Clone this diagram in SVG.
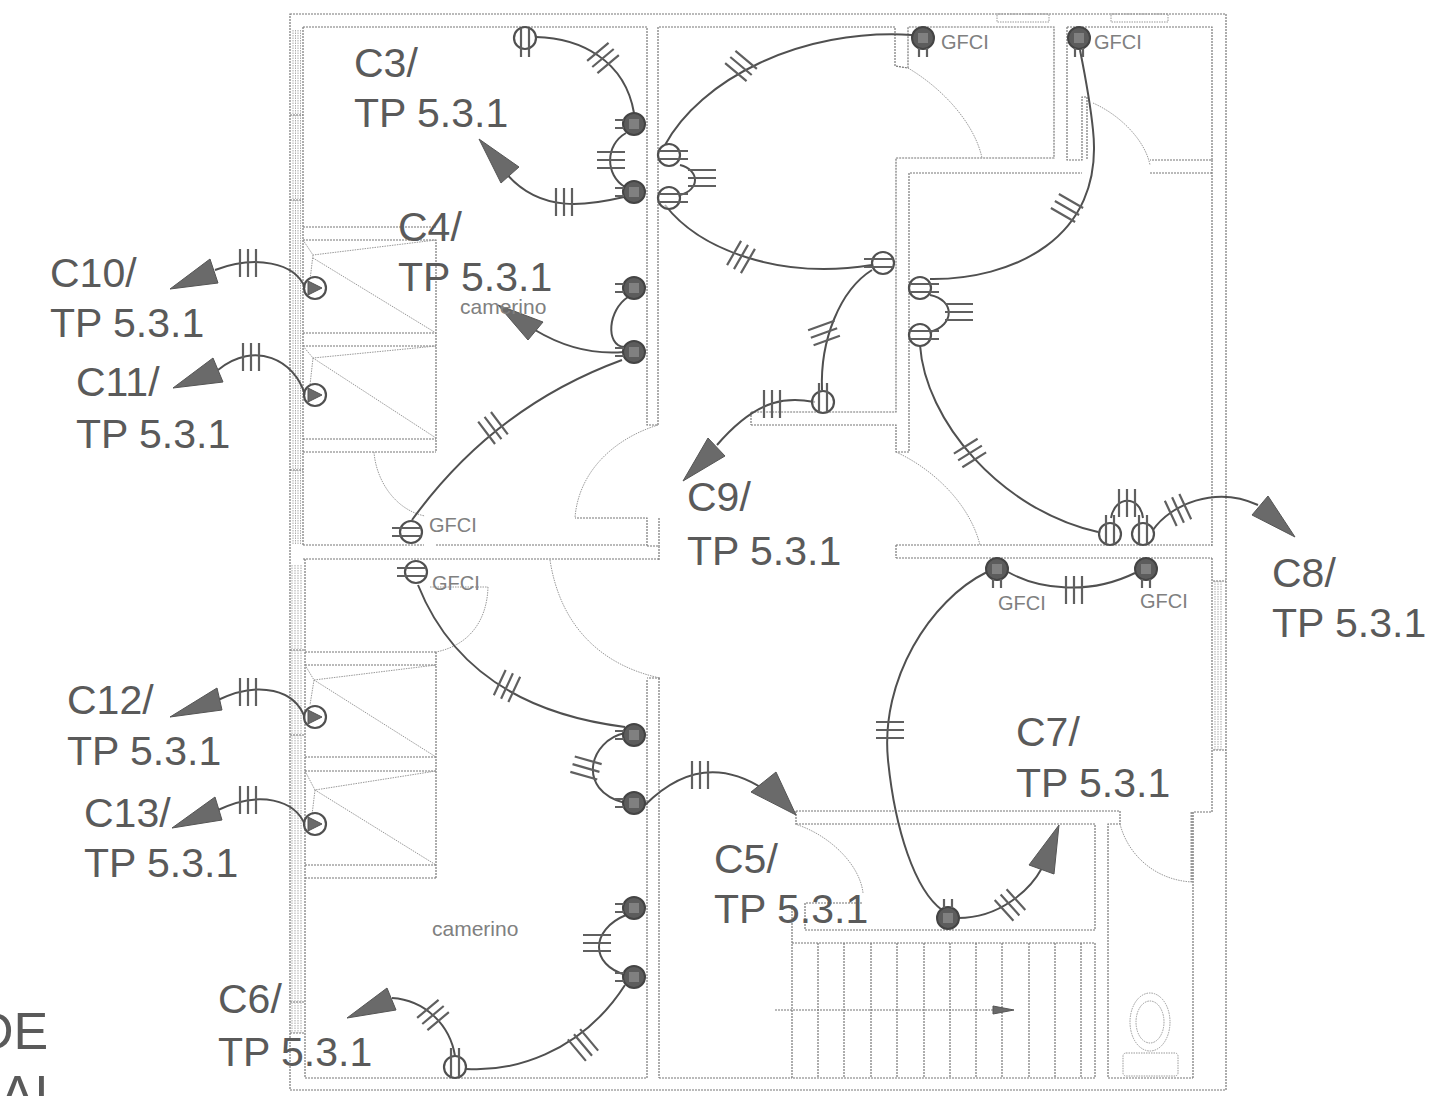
<svg xmlns="http://www.w3.org/2000/svg" width="1431" height="1096" viewBox="0 0 1431 1096">
<style>
.w{fill:none;stroke:#777;stroke-width:1.2;stroke-dasharray:2 1}
.l{fill:none;stroke:#999;stroke-width:1;stroke-dasharray:1.5 1}
.s{fill:none;stroke:#aaa;stroke-width:1;stroke-dasharray:1.5 1}
.e{fill:none;stroke:#505050;stroke-width:2}
.t{fill:none;stroke:#606060;stroke-width:2.2}
.a{fill:#6a6a6a;stroke:#555;stroke-width:1}
.o{fill:#fff;fill-opacity:.6;stroke:#505050;stroke-width:2.2}
.d{fill:#5c5c5c;stroke:#444;stroke-width:2}
text{font-family:"Liberation Sans",Arial,sans-serif;fill:#5a5a5a}
.m{font-size:41px}
.b{font-size:52px}
.g{font-size:20px;fill:#808080}
.c{font-size:21px;fill:#808080}
</style>
<defs>
<g id="t3"><path class="t" d="M-8-14V14M0-14V14M8-14V14"/></g>
<g id="op"><circle class="o" r="11"/><path class="t" d="M-4-10V19M4-10V19"/></g>
<g id="dk"><circle class="d" r="11"/><path d="M-5-5H5V5H-5Z" fill="#808080"/><path class="t" d="M-4 10V19M4 10V19"/></g>
<g id="tr"><circle class="o" r="11"/><path class="a" d="M-7-7L7 0L-7 7Z"/></g>
</defs>

<g id="plan">
<path class="w" d="M290 14H1226V1090H290Z"/>
<!-- window strips -->
<path class="s" d="M293 30V545M295.5 30V545M298 30V545M300.5 30V545M292 565V1033M295 565V1033M298 565V1033M301 565V1033"/>
<path class="w" d="M290 115H303M290 200H303M290 470H303M290 650H305M290 735H305M290 1002H305M290 1033H305"/>
<path class="w" d="M303 27H647V425H658V27M303 27V545M305 559V1078H647V680M659 678V1078M436 545H647V518H575M659 518V546M303 545H424M303 559H659M647 546H659V560M660 678H647"/>
<!-- closets -->
<path class="w" d="M303 227H436M303 240H436V452M303 333H436M303 346H436M303 439H436M303 452H436"/>
<path class="w" d="M305 652H436M305 665H436V878M305 757H436M305 771H436M305 865H436M305 878H436M436 652V665"/>
<path class="l" d="M303 240L313 255L436 240M313 258L436 333M313 255L310 280M303 346L313 358L436 346M313 358L436 438M313 358L310 385M305 665L314 680L436 665M314 680L436 757M314 680L310 705M305 771L315 790L436 771M315 790L436 865M315 790L312 815"/>
<path class="l" d="M374 452C376 480 395 510 425 516M658 425C610 440 578 475 575 518M488 587C487 620 470 645 436 652M430 587H488M550 560C560 625 600 665 660 678"/>
<!-- right top -->
<path class="w" d="M659 27H895V66L908 68V27H1054V158H896V412H751M751 425H896V452H909V173H1082M751 412V425M1067 27H1212V160H1150M1067 27V160H1082V97H1087V160M1150 173H1212M1212 160V546M896 545H1212M896 558H1212M896 545V558M1212 558V812H1193V1078"/>
<path class="l" d="M908 68C945 90 975 125 982 158M1093 103C1120 115 1145 140 1150 165M896 452C935 470 970 505 980 545"/>
<path class="l" d="M997 14H1049V22H997ZM1111 14H1168V22H1111Z"/>
<path class="s" d="M1215 581V750M1218 581V750M1221 581V750"/>
<path class="w" d="M1213 581H1226M1213 750H1226"/>
<!-- lower right -->
<path class="w" d="M796 811H1120V824H1108V1078H1193M796 824H1095V930H805V903H863M792 905V1078H1095M792 943H1095M659 1078H792M796 811V824M1095 943V1078"/>
<path class="l" d="M795 824C830 835 860 865 863 893M1120 824C1128 855 1155 880 1192 882"/>
<path d="M1192 812V882" stroke="#999" stroke-width="3" stroke-dasharray="2 1" fill="none"/>
<path class="w" d="M818 943V1078M844 943V1078M871 943V1078M897 943V1078M924 943V1078M950 943V1078M976 943V1078M1002 943V1078M1029 943V1078M1055 943V1078M1081 943V1078"/>
<path class="w" d="M775 1010H995"/>
<path class="a" d="M993 1006L1014 1010L993 1014Z"/>
<ellipse class="l" cx="1150" cy="1022" rx="20" ry="29"/>
<ellipse class="l" cx="1150" cy="1022" rx="14" ry="21"/>
<rect class="l" x="1123" y="1053" width="55" height="23" rx="3"/>
</g>

<g id="connectors">
<path class="e" d="M536 37C580 38 625 60 634 113"/>
<path class="e" d="M626 133C605 145 605 175 625 187"/>
<path class="e" d="M624 197C590 205 540 215 505 172"/>
<path class="e" d="M624 352C590 355 560 345 535 330"/>
<path class="e" d="M628 297C608 310 605 345 624 347"/>
<path class="e" d="M622 360C540 390 470 440 412 520"/>
<path class="e" d="M305 288C295 262 255 255 215 270"/>
<path class="e" d="M305 395C295 360 255 340 218 370"/>
<path class="e" d="M305 718C295 690 260 680 218 700"/>
<path class="e" d="M305 825C295 800 260 790 218 810"/>
<path class="e" d="M418 585C440 640 490 710 625 727"/>
<path class="e" d="M625 733C590 740 575 790 625 803"/>
<path class="e" d="M645 805C680 770 720 760 765 790"/>
<path class="e" d="M626 915C590 930 590 965 626 975"/>
<path class="e" d="M455 1056C450 1025 425 1000 392 998"/>
<path class="e" d="M466 1069C510 1072 580 1055 625 985"/>
<path class="e" d="M665 145C700 80 800 28 912 35"/>
<path class="e" d="M665 205C700 250 780 280 872 265"/>
<path class="e" d="M680 165C700 170 700 190 680 195"/>
<path class="e" d="M815 402C790 398 760 395 717 445"/>
<path class="e" d="M822 390C820 340 840 290 872 270"/>
<path class="e" d="M930 279C1010 280 1105 240 1093 130C1090 100 1085 75 1080 50"/>
<path class="e" d="M930 295C955 300 955 325 930 332"/>
<path class="e" d="M920 345C925 420 1000 510 1098 532"/>
<path class="e" d="M1111 518C1115 495 1140 495 1143 518"/>
<path class="e" d="M1153 530C1170 505 1215 485 1258 505"/>
<path class="e" d="M1008 572C1040 590 1090 595 1135 573"/>
<path class="e" d="M987 572C930 600 880 680 888 760C895 830 915 890 942 910"/>
<path class="e" d="M958 918C1000 918 1030 890 1042 868"/>
<!-- arrowheads -->
<path class="a" d="M479 139L519 167L501 183Z"/>
<path class="a" d="M498 305L543 322L528 340Z"/>
<path class="a" d="M170 289L210 259L218 283Z"/>
<path class="a" d="M173 388L213 358L223 382Z"/>
<path class="a" d="M170 717L217 688L222 710Z"/>
<path class="a" d="M172 828L215 797L222 820Z"/>
<path class="a" d="M796 815L751 792L776 772Z"/>
<path class="a" d="M347 1018L387 988L396 1010Z"/>
<path class="a" d="M683 481L708 438L725 456Z"/>
<path class="a" d="M1295 537L1252 515L1268 496Z"/>
<path class="a" d="M1059 825L1029 865L1054 874Z"/>
<!-- ticks -->
<use href="#t3" transform="translate(603 58) rotate(50)"/>
<use href="#t3" transform="translate(611 160) rotate(90)"/>
<use href="#t3" transform="translate(564 202)"/>
<use href="#t3" transform="translate(493 428) rotate(-37)"/>
<use href="#t3" transform="translate(248 263)"/>
<use href="#t3" transform="translate(251 357)"/>
<use href="#t3" transform="translate(248 692)"/>
<use href="#t3" transform="translate(248 800)"/>
<use href="#t3" transform="translate(507 686) rotate(25)"/>
<use href="#t3" transform="translate(586 768) rotate(106)"/>
<use href="#t3" transform="translate(700 775)"/>
<use href="#t3" transform="translate(597 943) rotate(90)"/>
<use href="#t3" transform="translate(433 1015) rotate(50)"/>
<use href="#t3" transform="translate(583 1045) rotate(-40)"/>
<use href="#t3" transform="translate(741 66) rotate(-50)"/>
<use href="#t3" transform="translate(741 257) rotate(30)"/>
<use href="#t3" transform="translate(702 178) rotate(90)"/>
<use href="#t3" transform="translate(772 404)"/>
<use href="#t3" transform="translate(824 333) rotate(70)"/>
<use href="#t3" transform="translate(1067 208) rotate(120)"/>
<use href="#t3" transform="translate(959 312) rotate(90)"/>
<use href="#t3" transform="translate(970 453) rotate(58)"/>
<use href="#t3" transform="translate(1127 503)"/>
<use href="#t3" transform="translate(1178 510) rotate(-25)"/>
<use href="#t3" transform="translate(1074 590)"/>
<use href="#t3" transform="translate(890 730) rotate(90)"/>
<use href="#t3" transform="translate(1010 905) rotate(-42)"/>
</g>

<g id="devices">
<g id="r1"><use href="#op" transform="translate(525 38)"/></g>
<g id="r2"><use href="#dk" transform="translate(634 124) rotate(90)"/></g>
<g id="r3"><use href="#dk" transform="translate(634 192) rotate(90)"/></g>
<g id="r4"><use href="#op" transform="translate(669 155) rotate(-90)"/></g>
<g id="r5"><use href="#op" transform="translate(669 198) rotate(-90)"/></g>
<g id="r6"><use href="#dk" transform="translate(634 288) rotate(90)"/></g>
<g id="r7"><use href="#dk" transform="translate(634 352) rotate(90)"/></g>
<g id="r8"><use href="#op" transform="translate(411 532) rotate(90)"/></g>
<g id="r9"><use href="#op" transform="translate(416 572) rotate(90)"/></g>
<g id="r10"><use href="#tr" transform="translate(315 288)"/></g>
<g id="r11"><use href="#tr" transform="translate(315 395)"/></g>
<g id="r12"><use href="#tr" transform="translate(315 717)"/></g>
<g id="r13"><use href="#tr" transform="translate(315 824)"/></g>
<g id="r14"><use href="#dk" transform="translate(923 38)"/></g>
<g id="r15"><use href="#dk" transform="translate(1079 38)"/></g>
<g id="r16"><use href="#op" transform="translate(883 263) rotate(90)"/></g>
<g id="r17"><use href="#op" transform="translate(823 402) rotate(180)"/></g>
<g id="r18"><use href="#op" transform="translate(920 288) rotate(-90)"/></g>
<g id="r19"><use href="#op" transform="translate(920 335) rotate(-90)"/></g>
<g id="r20"><use href="#op" transform="translate(1110 534) rotate(180)"/></g>
<g id="r21"><use href="#op" transform="translate(1143 534) rotate(180)"/></g>
<g id="r22"><use href="#dk" transform="translate(997 569)"/></g>
<g id="r23"><use href="#dk" transform="translate(1146 569)"/></g>
<g id="r24"><use href="#dk" transform="translate(634 735) rotate(90)"/></g>
<g id="r25"><use href="#dk" transform="translate(634 803) rotate(90)"/></g>
<g id="r26"><use href="#dk" transform="translate(634 908) rotate(90)"/></g>
<g id="r27"><use href="#dk" transform="translate(634 977) rotate(90)"/></g>
<g id="r28"><use href="#dk" transform="translate(948 918) rotate(180)"/></g>
<g id="r29"><use href="#op" transform="translate(455 1067) rotate(180)"/></g>
</g>

<g id="labels">
<text class="m" x="354" y="77">C3/</text><text class="m" x="354" y="127">TP 5.3.1</text>
<text class="m" x="398" y="241">C4/</text><text class="m" x="398" y="291">TP 5.3.1</text>
<text class="m" x="50" y="287">C10/</text><text class="m" x="50" y="337">TP 5.3.1</text>
<text class="m" x="76" y="396">C11/</text><text class="m" x="76" y="448">TP 5.3.1</text>
<text class="m" x="67" y="714">C12/</text><text class="m" x="67" y="765">TP 5.3.1</text>
<text class="m" x="84" y="827">C13/</text><text class="m" x="84" y="877">TP 5.3.1</text>
<text class="m" x="687" y="511">C9/</text><text class="m" x="687" y="565">TP 5.3.1</text>
<text class="m" x="1272" y="587">C8/</text><text class="m" x="1272" y="637">TP 5.3.1</text>
<text class="m" x="1016" y="746">C7/</text><text class="m" x="1016" y="797">TP 5.3.1</text>
<text class="m" x="714" y="873">C5/</text><text class="m" x="714" y="923">TP 5.3.1</text>
<text class="m" x="218" y="1013">C6/</text><text class="m" x="218" y="1066">TP 5.3.1</text>
<text class="b" x="-24" y="1049">DE</text><text class="b" x="0" y="1112">AL</text>
<text class="c" x="460" y="314">camerino</text>
<text class="c" x="432" y="936">camerino</text>
<text class="g" x="429" y="532">GFCI</text>
<text class="g" x="432" y="590">GFCI</text>
<text class="g" x="941" y="49">GFCI</text>
<text class="g" x="1094" y="49">GFCI</text>
<text class="g" x="998" y="610">GFCI</text>
<text class="g" x="1140" y="608">GFCI</text>
</g>
</svg>
